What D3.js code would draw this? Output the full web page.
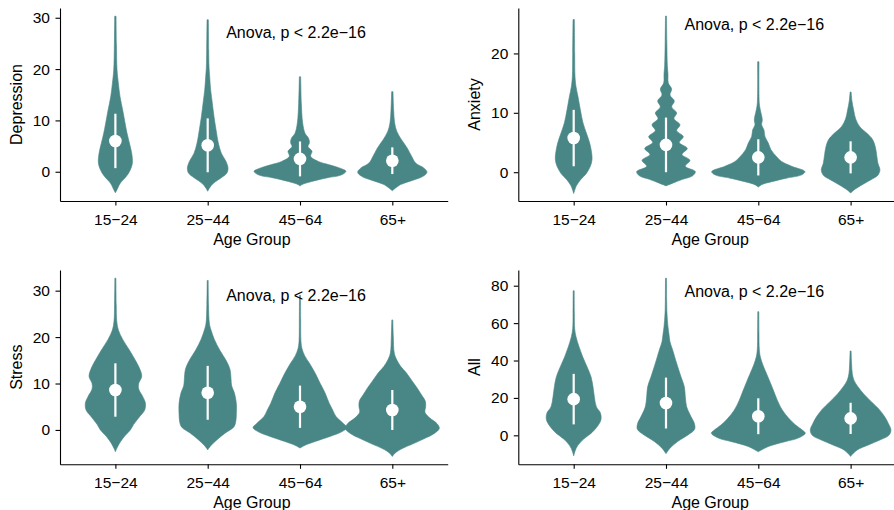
<!DOCTYPE html>
<html>
<head>
<meta charset="utf-8">
<script src="https://cdn.jsdelivr.net/npm/d3@7"></script>
<style>
  html, body { margin: 0; padding: 0; background: #fff; }
  svg { display: block; }
  text { font-family: "Liberation Sans", Arial, Helvetica, sans-serif; fill: #000; }
</style>
</head>
<body>
<svg id="chart" width="894" height="510"></svg>
<script>
// ---------------- DATA ----------------
const ageGroups = ["15−24", "25−44", "45−64", "65+"];
const measures = ["Depression", "Anxiety", "Stress", "All"];
const anovaLabel = "Anova, p < 2.2e−16";

// violin profiles: [score value, relative density width]
const depressionProfiles = [
  [[30.3,2],[25,3],[19.8,5],[17.2,9],[14.6,14],[12.0,22],[9.5,29],[7.5,35],[5.6,42],[3.6,49],[1.7,51],[0.4,45],[-0.9,33],[-2.2,15],[-3.2,7],[-4.1,0]],
  [[29.6,2],[23.7,3],[20.4,4],[18.5,6],[15.9,9],[13.3,14],[10.7,19],[8.2,25],[5.6,32],[3.6,41],[2.0,55],[0.7,61],[-0.3,57],[-1.2,40],[-2.2,18],[-3.2,5],[-3.8,0]],
  [[18.5,2],[13.3,4],[9.5,8],[7.5,15],[6.5,26],[5.6,28],[4.9,24],[4.0,36],[3.0,32],[2.0,55],[1.4,85],[0.7,120],[0.1,138],[-0.6,125],[-1.2,80],[-1.9,35],[-2.5,6],[-2.8,0]],
  [[15.6,2],[12.0,4],[9.5,7],[7.8,14],[6.2,28],[4.6,45],[3.0,58],[1.7,70],[0.7,95],[-0.1,104],[-0.9,92],[-1.7,60],[-2.5,25],[-3.7,0]]
];
const anxietyProfiles = [
  [[25.7,2],[20,3],[16.1,4],[14.4,7],[12.7,13],[10.5,20],[8.3,28],[6.6,38],[4.9,48],[3.2,54],[2.1,55],[1.0,50],[-0.2,38],[-1.3,20],[-2.3,8],[-3.6,0]],
  [[26.3,1.5],[22,2.5],[18,4],[16.5,6],[15,7],[14,17],[13,12],[12,25],[11,17],[10,32],[9,24],[8,42],[7,32],[6,52],[5,40],[4,64],[3,48],[2,72],[1,58],[0.1,88],[-0.6,80],[-1.2,50],[-1.8,22],[-2.3,0]],
  [[18.6,2],[11.6,3],[10.5,6],[8.8,12],[8.0,10],[7.1,17],[6.0,20],[4.9,30],[3.8,38],[2.6,55],[1.8,70],[1.0,100],[0.1,140],[-0.45,130],[-1.0,85],[-1.6,40],[-2.1,10],[-2.5,0]],
  [[13.5,1.5],[12,4],[10.5,9],[9,15],[7.7,27],[6.5,50],[5.5,66],[4.3,74],[3,78],[1.5,82],[0.4,88],[-0.5,82],[-1.3,60],[-2.1,35],[-3,10],[-3.5,0]]
];
const stressProfiles = [
  [[32.7,1.5],[27,2.5],[23.5,4],[21.5,9],[19.5,22],[17.2,42],[15,60],[13,74],[11.5,79],[10,70],[8.8,70],[7.2,82],[5.8,90],[4.3,88],[2.8,72],[1.2,55],[0,45],[-1.4,27],[-2.9,12],[-4.0,4],[-4.7,0]],
  [[32.2,1.5],[27,2.5],[23,5],[21.5,10],[19.5,20],[17.2,36],[15,55],[13,67],[11,70],[9.5,72],[8,80],[5.7,86],[3.5,86],[1.7,84],[0.6,78],[-0.7,52],[-2.1,28],[-3.5,8],[-4.3,0]],
  [[29,1.5],[24,2],[19,3],[17.5,6],[16,14],[14.4,28],[12.3,45],[10.1,60],[8,75],[5.7,88],[4.3,98],[2.9,108],[1.4,130],[0.5,141],[-0.4,125],[-1.4,90],[-2.5,45],[-3.3,15],[-3.9,0]],
  [[23.7,1.5],[20,3],[16.5,6],[15,14],[13.7,25],[12.3,42],[10.5,60],[9,75],[7.5,88],[6.2,99],[5,100],[3.8,98],[2.6,112],[1.3,135],[0.3,141],[-0.8,125],[-1.9,95],[-3,62],[-4,30],[-5,8],[-5.7,0]]
];
const allProfiles = [
  [[77.3,1.5],[65,2],[57,3],[52.7,7],[47.4,16],[42,27],[36.7,40],[31.3,52],[26,58],[20.6,62],[15.3,68],[12,80],[8.5,82],[5,72],[1.5,55],[-2,30],[-5.5,12],[-8.5,4],[-11,0]],
  [[84,1.5],[72,2],[65,3],[58,6],[54,9],[50,12],[45.6,20],[38.5,32],[31.3,45],[26,55],[20.6,58],[15.3,62],[10,75],[6.4,85],[3.2,86],[0.2,66],[-3.3,35],[-6.9,12],[-9.8,0]],
  [[66.1,1.5],[55,2],[46,3],[42,6],[38,13],[34.9,20],[29.5,33],[24.2,45],[18.8,57],[13.5,72],[9,92],[5.5,112],[2.8,132],[1.1,141],[-1.6,118],[-3.4,80],[-6,30],[-8.8,0]],
  [[45.1,1.5],[38,3],[33,5],[29.5,10],[26,22],[22,40],[18,62],[14,85],[10,102],[6.4,113],[2.8,121],[0,115],[-2.5,88],[-5,55],[-7.8,20],[-10,6],[-11.3,0]]
];

// mean and standard deviation per age group
const depressionMean = [6.0, 5.15, 2.5, 2.15];
const depressionSd   = [5.3, 5.25, 3.4, 2.6];
const anxietyMean = [5.75, 4.6, 2.5, 2.5];
const anxietySd   = [4.75, 4.6, 3.05, 2.7];
const stressMean = [8.6, 8.0, 5.0, 4.3];
const stressSd   = [5.75, 5.8, 4.55, 4.3];
const allMean = [19.35, 17.25, 10.2, 9.05];
const allSd   = [13.5, 13.6, 9.6, 8.35];

// y axis ticks and limits
const depressionTicks = [0, 10, 20, 30];
const anxietyTicks = [0, 10, 20];
const stressTicks = [0, 10, 20, 30];
const allTicks = [0, 20, 40, 60, 80];
const yLimits = [[-5.7, 31.9], [-4.85, 27.65], [-7.4, 34.45], [-15.5, 88.4]];
// label anchor in data coordinates: [category offset, score]
const labelAnchors = [[1.2, 26.0], [1.2, 24.0], [1.2, 27.8], [1.2, 74.2]];

// ---------------- LAYOUT ----------------
const profiles = [depressionProfiles, anxietyProfiles, stressProfiles, allProfiles];
const means = [depressionMean, anxietyMean, stressMean, allMean];
const sds = [depressionSd, anxietySd, stressSd, allSd];
const ticks = [depressionTicks, anxietyTicks, stressTicks, allTicks];

const panelBoxes = [
  {left: 60,    top: 8,   bottom: 201},
  {left: 518.3, top: 8,   bottom: 201},
  {left: 60,    top: 270, bottom: 464.3},
  {left: 518.3, top: 270, bottom: 464.3}
];
const panelWidth = 387.7;
const fillColor = "#488786";
const maxDensity = d3.max(profiles.flat().flat(), p => p[1]);

const svg = d3.select("#chart");
svg.append("rect").attr("width", 894).attr("height", 510).attr("fill", "#fff");

panelBoxes.forEach((box, pi) => {
  const g = svg.append("g");
  const x = d3.scalePoint().domain(ageGroups).range([box.left, box.left + panelWidth]).padding(0.6);
  const y = d3.scaleLinear().domain(yLimits[pi]).range([box.bottom, box.top]);
  const step = x.step();
  const w = d3.scaleLinear().domain([0, maxDensity]).range([0, 0.509 * step]);

  // violins
  ageGroups.forEach((grp, gi) => {
    const cx = x(grp);
    const area = d3.area()
      .curve(d3.curveCatmullRom.alpha(0.5))
      .y(d => y(d[0]))
      .x0(d => cx - w(d[1]))
      .x1(d => cx + w(d[1]));
    g.append("path")
      .datum(profiles[pi][gi])
      .attr("d", area)
      .attr("fill", fillColor)
      .attr("stroke", fillColor)
      .attr("stroke-width", 0.6);
  });

  // mean ± sd
  ageGroups.forEach((grp, gi) => {
    const cx = x(grp);
    const m = means[pi][gi], s = sds[pi][gi];
    g.append("line")
      .attr("x1", cx).attr("x2", cx)
      .attr("y1", y(m - s)).attr("y2", y(m + s))
      .attr("stroke", "#fff").attr("stroke-width", 2.2);
    g.append("circle")
      .attr("cx", cx).attr("cy", y(m)).attr("r", 6.3)
      .attr("fill", "#fff");
  });

  // axes
  const xAxis = d3.axisBottom(x).tickSizeInner(4.5).tickSizeOuter(0).tickPadding(8.5);
  const yAxis = d3.axisLeft(y).tickValues(ticks[pi]).tickSizeInner(4.5).tickSizeOuter(0).tickPadding(5.5);

  const gx = g.append("g").attr("transform", `translate(0,${box.bottom})`).call(xAxis);
  const gy = g.append("g").attr("transform", `translate(${box.left},0)`).call(yAxis);
  [gx, gy].forEach(a => {
    a.select(".domain").attr("stroke", "#000").attr("stroke-width", 1.1);
    a.selectAll(".tick line").attr("stroke", "#000").attr("stroke-width", 1.1);
    a.selectAll(".tick text").attr("font-size", 15.5).attr("fill", "#000")
      .attr("font-family", '"Liberation Sans", Arial, sans-serif');
  });

  // axis titles
  g.append("text")
    .attr("x", box.left + panelWidth / 2 - 2)
    .attr("y", box.bottom + 44)
    .attr("text-anchor", "middle")
    .attr("font-size", 16)
    .text("Age Group");
  g.append("text")
    .attr("transform", `translate(${box.left - 38},${(box.top + box.bottom) / 2}) rotate(-90)`)
    .attr("text-anchor", "middle")
    .attr("font-size", 16)
    .text(measures[pi]);

  // anova label
  const [lx, ly] = labelAnchors[pi];
  g.append("text")
    .attr("x", x(ageGroups[0]) + lx * step)
    .attr("y", y(ly))
    .attr("font-size", 16)
    .text(anovaLabel);
});
</script>
</body>
</html>
